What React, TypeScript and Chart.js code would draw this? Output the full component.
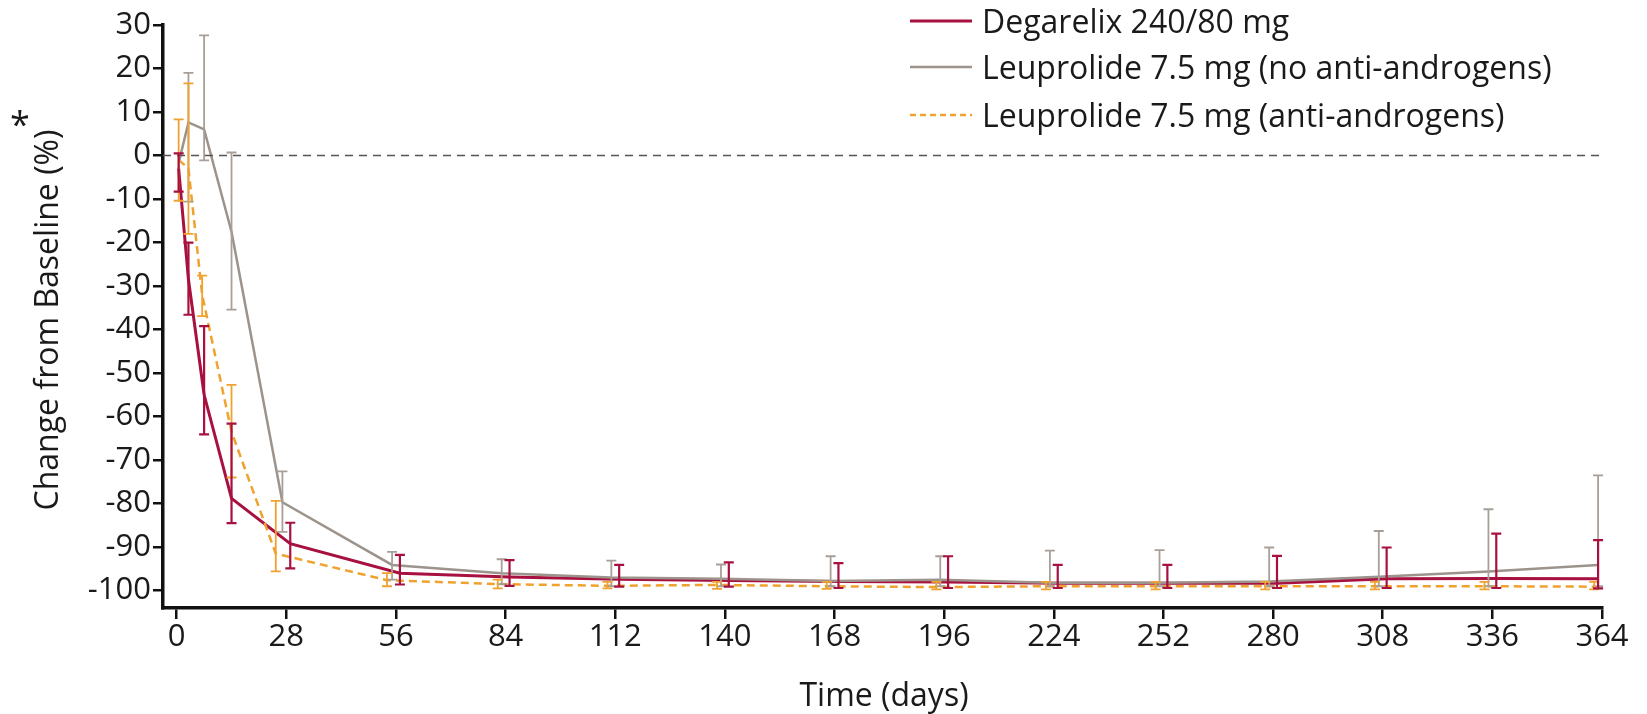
import React, { useEffect, useRef } from "react";
import { Chart, registerables } from "chart.js";

Chart.register(...registerables);

// ---- data ----
const xTickValues = [0, 28, 56, 84, 112, 140, 168, 196, 224, 252, 280, 308, 336, 364];
const yTickValues = [-100, -90, -80, -70, -60, -50, -40, -30, -20, -10, 0, 10, 20, 30];

const seriesNames = [
  "Degarelix 240/80 mg",
  "Leuprolide 7.5 mg (no anti-androgens)",
  "Leuprolide 7.5 mg (anti-androgens)",
];

// plotted day for each visit (the source dodges the groups slightly)
const degarelixDays = [0.5, 3, 7, 14, 29, 57, 85, 113, 141, 169, 197, 225, 253, 281, 309, 337, 363];
const degarelixMean = [-3, -28.5, -55, -78.8, -89.2, -96, -96.9, -97.4, -97.7, -97.9, -98, -98.3, -98.3, -98.3, -97.3, -97.2, -97.3];
const degarelixUpper = [0.5, -20, -39.2, -61.6, -84.4, -91.8, -93, -94.1, -93.5, -93.7, -92.1, -94.1, -94.1, -92, -90.1, -86.9, -88.4];
const degarelixLower = [-8.3, -36.6, -64.1, -84.5, -94.9, -98.6, -98.9, -99.1, -99.1, -99.4, -99.4, -99.4, -99.4, -99.4, -99.4, -99.4, -99.5];

const leuNoAADays = [0.7, 3, 7, 14, 27, 55, 83, 111, 139, 167, 195, 223, 251, 279, 307, 335, 363];
const leuNoAAMean = [-1, 7.6, 6, -17.5, -79.7, -94.1, -96, -97, -97.3, -97.8, -97.5, -98.2, -98.2, -97.9, -96.8, -95.6, -94.1];
const leuNoAAUpper = [null, 19, 27.6, 0.7, -72.6, -91.1, -92.8, -93.1, -94, -92.1, -92.1, -90.8, -90.7, -90.1, -86.3, -81.3, -73.5];
const leuNoAALower = [null, -10.6, -1.1, -35.4, -86.5, -97.5, -98.5, -99, -99, -99, -99, -99, -99, -99, -99, -99, -99];

const leuAADays = [0.5, 3, 6.5, 14, 25.3, 53.7, 82, 110, 138, 166, 194, 222, 250, 278, 306, 334, 362];
const leuAAMean = [-1, -3, -32, -63.5, -91.5, -97.6, -98.5, -98.9, -98.7, -99, -99.2, -99, -99, -99, -99, -99, -99.1];
const leuAAUpper = [8.3, 16.6, -27.6, -52.7, -79.4, -96, -97.5, -98, -98, -98, -98, -98, -98, -98, -98, -98, -98];
const leuAALower = [-10.4, -18, -36.9, -74, -95.6, -99, -99.5, -99.5, -99.6, -99.6, -99.7, -99.7, -99.7, -99.7, -99.7, -99.7, -99.7];

const referenceLine = [0, 0];
const referenceDays = [-3.5, 364];

// ---- styles ----
const RED = "#a8113f";
const GRAY = "#9c948c";
const ORANGE = "#f0a22e";
const FONT = "'Open Sans', 'DejaVu Sans', sans-serif";

const toPoints = (xs: number[], ys: (number | null)[]) =>
  xs.map((x, i) => ({ x, y: ys[i] }));

const errorBarPlugin = {
  id: "errorBars",
  afterDatasetsDraw(chart: any) {
    const { ctx } = chart;
    const xs = chart.scales.x;
    const ys = chart.scales.y;
    chart.data.datasets.forEach((ds: any) => {
      if (!ds.errUpper) return;
      ctx.save();
      ctx.strokeStyle = ds.errColor;
      ctx.lineWidth = ds.errWidth;
      ctx.setLineDash([]);
      ds.data.forEach((p: any, i: number) => {
        const up = ds.errUpper[i];
        const lo = ds.errLower[i];
        if (up == null || lo == null) return;
        const px = xs.getPixelForValue(p.x);
        const pu = ys.getPixelForValue(up);
        const pl = ys.getPixelForValue(lo);
        const cap = 5;
        ctx.beginPath();
        ctx.moveTo(px, pu);
        ctx.lineTo(px, pl);
        ctx.moveTo(px - cap, pu);
        ctx.lineTo(px + cap, pu);
        ctx.moveTo(px - cap, pl);
        ctx.lineTo(px + cap, pl);
        ctx.stroke();
      });
      ctx.restore();
    });
  },
};

export default function App() {
  const canvasRef = useRef<HTMLCanvasElement | null>(null);

  useEffect(() => {
    const canvas = canvasRef.current;
    if (!canvas) return;
    const chart = new Chart(canvas, {
      type: "line",
      data: {
        datasets: [
          {
            label: "ref",
            data: toPoints(referenceDays, referenceLine),
            borderColor: "#555555",
            borderWidth: 1.5,
            borderDash: [8, 6],
            pointRadius: 0,
            fill: false,
          },
          {
            label: seriesNames[1],
            data: toPoints(leuNoAADays, leuNoAAMean),
            borderColor: GRAY,
            borderWidth: 2.5,
            pointRadius: 0,
            fill: false,
            errUpper: leuNoAAUpper,
            errLower: leuNoAALower,
            errColor: "#a8a098",
            errWidth: 1.8,
          } as any,
          {
            label: seriesNames[2],
            data: toPoints(leuAADays, leuAAMean),
            borderColor: ORANGE,
            borderWidth: 2.5,
            borderDash: [8, 5],
            pointRadius: 0,
            fill: false,
            errUpper: leuAAUpper,
            errLower: leuAALower,
            errColor: ORANGE,
            errWidth: 1.8,
          } as any,
          {
            label: seriesNames[0],
            data: toPoints(degarelixDays, degarelixMean),
            borderColor: RED,
            borderWidth: 3,
            pointRadius: 0,
            fill: false,
            errUpper: degarelixUpper,
            errLower: degarelixLower,
            errColor: RED,
            errWidth: 2.2,
          } as any,
        ],
      },
      options: {
        animation: false,
        responsive: false,
        maintainAspectRatio: false,
        layout: { padding: { left: 0, right: 45, top: 25, bottom: 0 } },
        plugins: {
          legend: { display: false },
          tooltip: { enabled: false },
        },
        elements: { line: { tension: 0 } },
        scales: {
          x: {
            type: "linear",
            min: -3.5,
            max: 364,
            afterFit: (s: any) => {
              s.height = 106;
            },
            afterBuildTicks: (s: any) => {
              s.ticks = xTickValues.map((v) => ({ value: v }));
            },
            grid: {
              drawOnChartArea: false,
              drawTicks: true,
              tickLength: 11,
              tickWidth: 2.5,
              tickColor: "#111",
              lineWidth: 2.5,
              color: "#111",
            },
            border: { display: true, color: "#111", width: 3.5 },
            ticks: {
              color: "#1a1a1a",
              font: { family: FONT, size: 31 },
              padding: 0,
              maxRotation: 0,
              autoSkip: false,
            },
          },
          y: {
            type: "linear",
            min: -104,
            max: 30,
            afterFit: (s: any) => {
              s.width = 163;
            },
            afterBuildTicks: (s: any) => {
              s.ticks = yTickValues.map((v) => ({ value: v }));
            },
            grid: {
              drawOnChartArea: false,
              drawTicks: true,
              tickLength: 10,
              tickWidth: 2.5,
              tickColor: "#111",
              lineWidth: 2.5,
              color: "#111",
            },
            border: { display: true, color: "#111", width: 3.5 },
            ticks: {
              color: "#1a1a1a",
              font: { family: FONT, size: 31 },
              padding: 2,
              autoSkip: false,
            },
          },
        },
      },
      plugins: [errorBarPlugin],
    } as any);
    return () => chart.destroy();
  }, []);

  const legendRows = [
    { name: seriesNames[0], color: RED, dash: "", width: 3, y: 21 },
    { name: seriesNames[1], color: GRAY, dash: "", width: 2.5, y: 67 },
    { name: seriesNames[2], color: ORANGE, dash: "6 4", width: 2.5, y: 115 },
  ];

  return (
    <div
      style={{
        position: "absolute",
        left: 0,
        top: 0,
        width: 1647,
        height: 714,
        background: "#fff",
        overflow: "hidden",
        fontFamily: FONT,
        color: "#1a1a1a",
      }}
    >
      <canvas
        ref={canvasRef}
        width={1647}
        height={714}
        style={{ position: "absolute", left: 0, top: 0, width: 1647, height: 714 }}
      />
      {legendRows.map((r) => (
        <div
          key={r.name}
          style={{
            position: "absolute",
            left: 910,
            top: r.y - 20,
            height: 40,
            display: "flex",
            alignItems: "center",
            whiteSpace: "nowrap",
          }}
        >
          <svg width={64} height={10} style={{ display: "block" }}>
            <line
              x1={0}
              y1={5}
              x2={62}
              y2={5}
              stroke={r.color}
              strokeWidth={r.width}
              strokeDasharray={r.dash || undefined}
            />
          </svg>
          <span style={{ marginLeft: 8, fontSize: 32, lineHeight: "40px" }}>{r.name}</span>
        </div>
      ))}
      <div
        style={{
          position: "absolute",
          left: 46,
          top: 320,
          transform: "translate(-50%, -50%) rotate(-90deg)",
          whiteSpace: "nowrap",
          fontSize: 32,
          lineHeight: "38px",
        }}
      >
        Change from Baseline (%)
      </div>
      <div
        style={{
          position: "absolute",
          left: 10,
          top: 106,
          fontSize: 36,
          lineHeight: 1,
        }}
      >
        *
      </div>
      <div
        style={{
          position: "absolute",
          left: 884,
          top: 694,
          transform: "translate(-50%, -50%)",
          whiteSpace: "nowrap",
          fontSize: 32,
          lineHeight: "38px",
        }}
      >
        Time (days)
      </div>
    </div>
  );
}
